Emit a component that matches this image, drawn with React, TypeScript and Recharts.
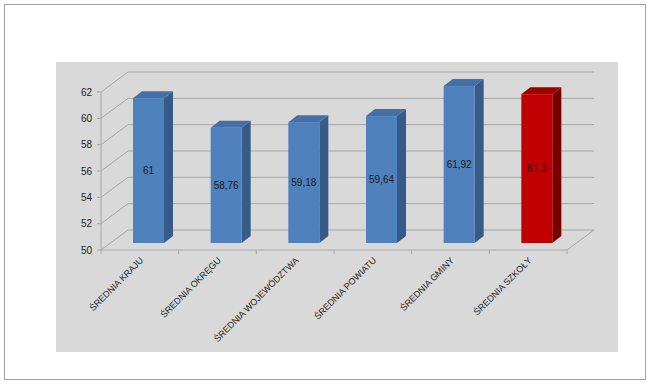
import { Bar, BarChart, CartesianGrid, LabelList, XAxis, YAxis } from "recharts";

const categories = [
	"ŚREDNIA KRAJU",
	"ŚREDNIA OKRĘGU",
	"ŚREDNIA WOJEWÓDZTWA",
	"ŚREDNIA POWIATU",
	"ŚREDNIA GMINY",
	"ŚREDNIA SZKOŁY",
];
const scores = [61, 58.76, 59.18, 59.64, 61.92, 61.3];
const yTicks = [50, 52, 54, 56, 58, 60, 62];
const highlighted = "ŚREDNIA SZKOŁY";

const data = categories.map((name, i) => ({ name, value: scores[i] }));

// fake 3D: wall depth, and where the bar sits inside it
const DX = 27;
const DY = -20;
const BX = 9;
const BY = -7;

const FONT = "'Liberation Sans', Arial, sans-serif";
const GRID = "#a6a6a6";

function Bar3D(props: any) {
	const { x, y, width, height, payload } = props;
	const red = payload.name === highlighted;
	const front = red ? "#c00000" : "#4f81bd";
	const side = red ? "#7a0000" : "#365b88";
	const top = red ? "#9e0000" : "#4470a6";
	const fx = x + BX;
	const fy = y + BY;
	return (
		<g>
			<polygon
				points={`${fx + width},${fy} ${fx + width + BX},${fy + BY} ${fx + width + BX},${fy + BY + height} ${fx + width},${fy + height}`}
				fill={side}
			/>
			<polygon
				points={`${fx},${fy} ${fx + BX},${fy + BY} ${fx + width + BX},${fy + BY} ${fx + width},${fy}`}
				fill={top}
			/>
			<rect x={fx} y={fy} width={width} height={height} fill={front} />
		</g>
	);
}

function GridLine3D(props: any) {
	const { x1, y1, x2, index } = props;
	return (
		<g key={`g-${index}`}>
			<line x1={x1} y1={y1} x2={x1 + DX} y2={y1 + DY} stroke={GRID} />
			<line x1={x1 + DX} y1={y1 + DY} x2={x2 + DX} y2={y1 + DY} stroke={GRID} />
			{index === 0 && (
				<line x1={x2} y1={y1} x2={x2 + DX} y2={y1 + DY} stroke={GRID} />
			)}
		</g>
	);
}

function CategoryTick(props: any) {
	const { x, y, payload, index, visibleTicksCount } = props;
	const half = payload.offset ?? 0;
	const axisY = y - 8;
	return (
		<g>
			<line x1={x - half} y1={axisY} x2={x - half} y2={axisY + 4} stroke={GRID} />
			{index === visibleTicksCount - 1 && (
				<line x1={x + half} y1={axisY} x2={x + half} y2={axisY + 4} stroke={GRID} />
			)}
			<text
				transform={`translate(${x + 4},${axisY + 11}) rotate(-45)`}
				textAnchor="end"
				fontSize={9}
				fontFamily={FONT}
				fill="#222"
			>
				{payload.value}
			</text>
		</g>
	);
}

function ValueLabel(props: any) {
	const { x, y, width, height, value } = props;
	return (
		<text
			x={x + BX + width / 2}
			y={y + BY + height / 2}
			textAnchor="middle"
			dominantBaseline="central"
			fontSize={10}
			fontFamily={FONT}
			fill="#1a1a1a"
		>
			{String(value).replace(".", ",")}
		</text>
	);
}

export default function App() {
	return (
		<div
			style={{
				position: "absolute",
				left: 0,
				top: 0,
				width: 650,
				height: 384,
				background: "#fff",
			}}
		>
			<div
				style={{
					position: "absolute",
					left: 4,
					top: 4,
					width: 640,
					height: 374,
					border: "1px solid #a0a0a0",
				}}
			/>
			<div
				style={{
					position: "absolute",
					left: 56,
					top: 62,
					width: 562,
					height: 290,
					background: "#d9d9d9",
				}}
			/>
			<div style={{ position: "absolute", left: 0, top: 0 }}>
				<BarChart
					width={650}
					height={384}
					data={data}
					margin={{ top: 92, right: 83, bottom: 104, left: 61 }}
					barSize={31}
				>
					<CartesianGrid
						vertical={false}
						horizontal={(p: any) => <GridLine3D {...p} />}
					/>
					<XAxis
						dataKey="name"
						height={30}
						interval={0}
						tickLine={false}
						axisLine={{ stroke: GRID }}
						tick={<CategoryTick />}
					/>
					<YAxis
						width={40}
						domain={[50, 62]}
						ticks={yTicks}
						interval={0}
						tickSize={4}
						tickMargin={5}
						axisLine={{ stroke: GRID }}
						tickLine={{ stroke: GRID }}
						tick={{ fontSize: 10, fontFamily: FONT, fill: "#222" }}
					/>
					<Bar dataKey="value" shape={<Bar3D />} isAnimationActive={false}>
						<LabelList dataKey="value" content={<ValueLabel />} />
					</Bar>
				</BarChart>
			</div>
		</div>
	);
}
